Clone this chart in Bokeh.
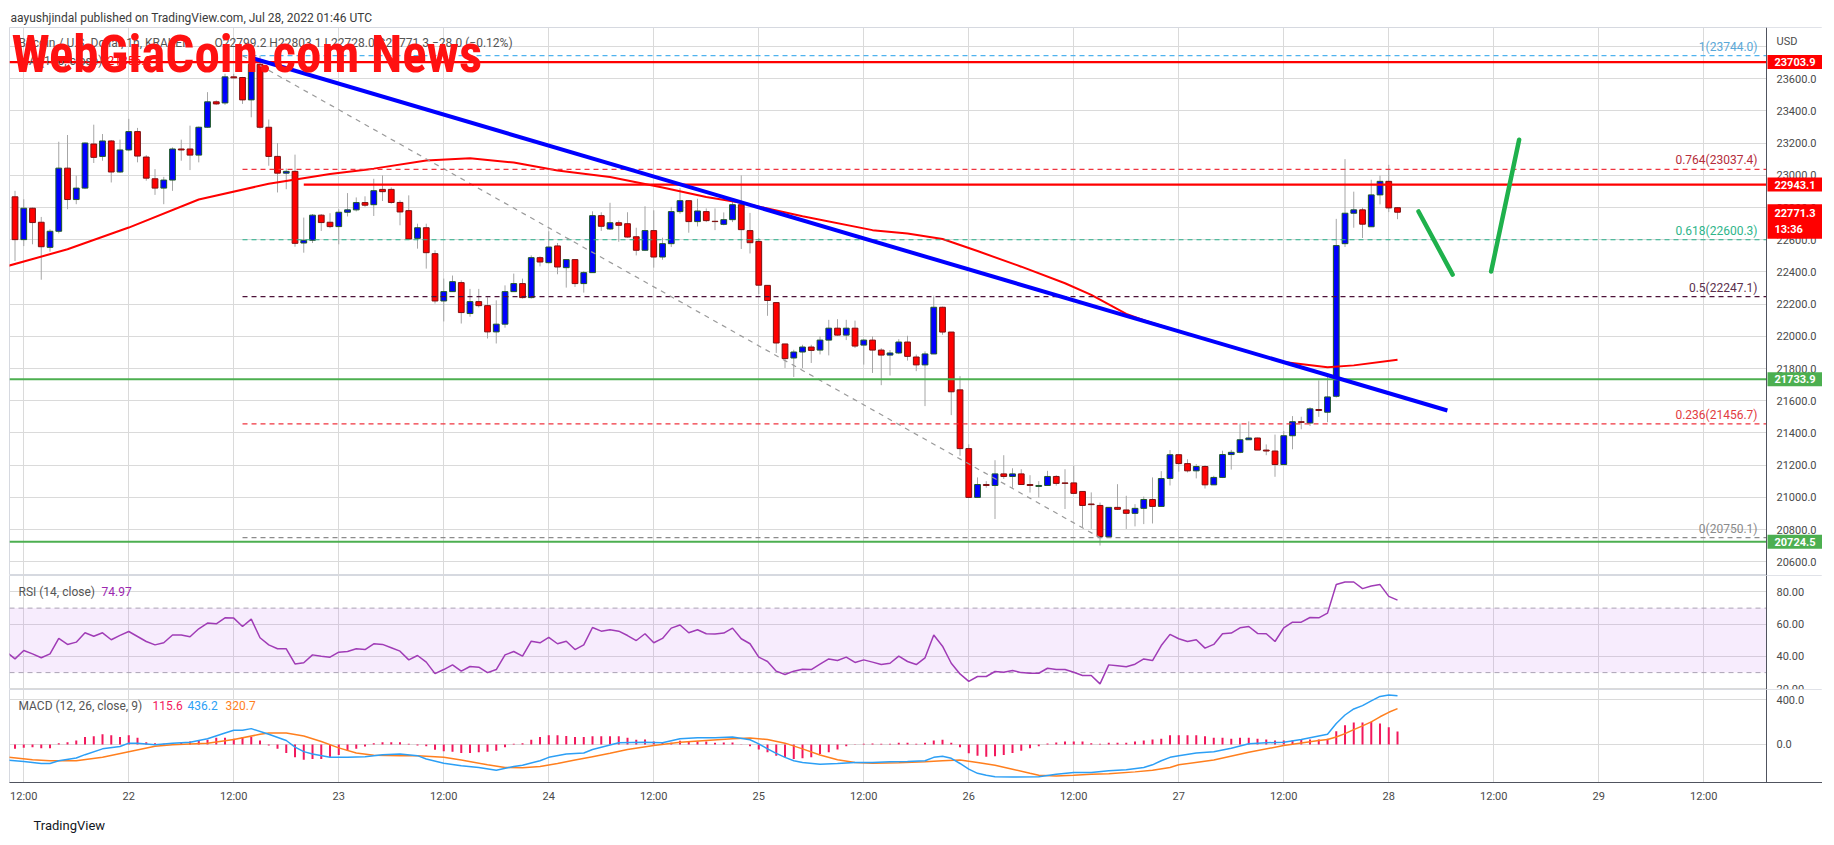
from bokeh.plotting import figure
from bokeh.layouts import column
from bokeh.models import (ColumnDataSource, Range1d, FixedTicker, Span, Label,
                          BoxAnnotation, Title)
from bokeh.core.properties import value
from bokeh.embed import file_html
from bokeh.resources import INLINE

# ------------------------------------------------------------------ data
# x = hours counted from Jul 22 00:00 (1h candles, BTC/USD Kraken)
candle_hours = list(range(-13, 146))
opens = [22867, 22601, 22796, 22709, 22553, 22653, 23045, 22850, 22921, 23195,
         23118, 23214, 23021, 23158, 23272, 23114, 22979, 22921, 22971, 23164,
         23164, 23126, 23299, 23457, 23450, 23612, 23608, 23469, 23690, 23299,
         23118, 23014, 23025, 22580, 22597, 22753, 22709, 22682, 22771, 22786,
         22831, 22818, 22913, 22913, 22832, 22781, 22609, 22675, 22514, 22220,
         22278, 22334, 22142, 22216, 22191, 22028, 22076, 22278, 22328, 22241,
         22489, 22458, 22562, 22427, 22477, 22328, 22396, 22750, 22667, 22706,
         22700, 22619, 22535, 22657, 22493, 22576, 22775, 22843, 22713, 22775,
         22715, 22696, 22725, 22818, 22657, 22590, 22317, 22210, 21953, 21866,
         21903, 21934, 21915, 21977, 22051, 22008, 22051, 21946, 21977, 21915,
         21884, 21897, 21965, 21872, 21823, 21891, 22181, 22027, 21668, 21303,
         21000, 21080, 21074, 21146, 21130, 21146, 21080, 21068, 21074, 21130,
         21090, 21090, 21037, 20959, 20950, 20755, 20938, 20922, 20901, 20932,
         20987, 20944, 21118, 21265, 21210, 21165, 21192, 21078, 21124, 21266,
         21280, 21358, 21369, 21294, 21288, 21204, 21383, 21470, 21462, 21546,
         21529, 21628, 22576, 22765, 22786, 22681, 22879, 22963, 22799.2]
highs = [22904, 22852, 22800, 22742, 22665, 23209, 23251, 22998, 23205, 23315,
         23257, 23220, 23222, 23351, 23295, 23126, 23039, 22991, 23174, 23222,
         23309, 23304, 23517, 23466, 23631, 23631, 23612, 23720, 23744, 23347,
         23201, 23043, 23129, 22738, 22760, 22760, 22765, 22790, 22890, 22863,
         22870, 22979, 23000, 22925, 22845, 22876, 22700, 22700, 22535, 22359,
         22378, 22348, 22295, 22295, 22243, 22224, 22317, 22390, 22359, 22503,
         22497, 22653, 22580, 22477, 22477, 22406, 22777, 22771, 22830, 22720,
         22771, 22675, 22808, 22783, 22613, 22804, 22921, 22845, 22855, 22795,
         22795, 22770, 22845, 23000, 22767, 22611, 22317, 22210, 21953, 21917,
         21948, 21948, 22000, 22103, 22107, 22103, 22098, 21983, 22000, 21927,
         21915, 21983, 22004, 21887, 21907, 22252, 22185, 22027, 21753, 21330,
         21124, 21101, 21231, 21262, 21181, 21175, 21138, 21101, 21165, 21138,
         21175, 21196, 21037, 21031, 20968, 20938, 21082, 21010, 20958, 21005,
         21124, 21163, 21294, 21265, 21237, 21207, 21200, 21134, 21290, 21295,
         21459, 21472, 21371, 21329, 21390, 21412, 21505, 21501, 21560, 21727,
         21756, 22730, 23101, 22899, 22800, 22973, 22998, 23066, 22803.1]
lows = [22468, 22561, 22572, 22352, 22526, 22640, 22790, 22821, 22915, 23077,
        23091, 22956, 23015, 23150, 23081, 22967, 22879, 22821, 22904, 23091,
        23033, 23081, 23295, 23438, 23438, 23600, 23444, 23361, 23290, 23060,
        22894, 22914, 22557, 22520, 22580, 22655, 22672, 22572, 22745, 22776,
        22805, 22748, 22841, 22824, 22690, 22605, 22545, 22421, 22204, 22093,
        22276, 22080, 22122, 22180, 21987, 21956, 22054, 22278, 22235, 22235,
        22435, 22452, 22386, 22303, 22307, 22272, 22396, 22655, 22661, 22588,
        22613, 22503, 22530, 22427, 22476, 22555, 22762, 22644, 22683, 22710,
        22660, 22690, 22710, 22543, 22515, 22262, 22128, 21897, 21804, 21748,
        21803, 21835, 21888, 21882, 22004, 21977, 21928, 21825, 21773, 21697,
        21757, 21890, 21850, 21784, 21567, 21891, 22010, 21511, 21258, 21000,
        20998, 21060, 20866, 21115, 21060, 21080, 21030, 21000, 21074, 21073,
        20928, 21021, 20814, 20804, 20701, 20755, 20922, 20804, 20820, 20834,
        20838, 20944, 21074, 21160, 21155, 21118, 21055, 21078, 21120, 21173,
        21274, 21358, 21294, 21262, 21128, 21200, 21299, 21423, 21443, 21500,
        21467, 21620, 22555, 22675, 22611, 22681, 22820, 22772, 22728.0]
closes = [22601, 22796, 22707, 22557, 22653, 23045, 22850, 22921, 23201, 23112,
          23214, 23021, 23158, 23272, 23120, 22983, 22921, 22971, 23164, 23158,
          23126, 23299, 23457, 23444, 23612, 23606, 23469, 23690, 23299, 23118,
          23014, 23025, 22578, 22597, 22753, 22707, 22682, 22771, 22786, 22831,
          22815, 22905, 22899, 22832, 22773, 22605, 22675, 22520, 22220, 22278,
          22340, 22148, 22216, 22191, 22028, 22076, 22278, 22328, 22241, 22489,
          22462, 22555, 22431, 22477, 22328, 22396, 22750, 22684, 22706, 22690,
          22617, 22535, 22657, 22493, 22576, 22775, 22843, 22713, 22779, 22719,
          22713, 22725, 22818, 22663, 22582, 22318, 22223, 21959, 21862, 21903,
          21934, 21913, 21977, 22051, 22008, 22051, 21940, 21977, 21915, 21884,
          21897, 21965, 21876, 21823, 21891, 22181, 22027, 21656, 21303, 21000,
          21080, 21074, 21146, 21130, 21146, 21080, 21074, 21074, 21130, 21087,
          21087, 21025, 20950, 20955, 20757, 20938, 20926, 20901, 20932, 20987,
          20944, 21117, 21265, 21210, 21165, 21192, 21078, 21124, 21266, 21280,
          21358, 21369, 21294, 21288, 21204, 21383, 21470, 21466, 21550, 21540,
          21624, 22564, 22765, 22786, 22697, 22879, 22963, 22798, 22771.3]

ma_hours = [-14, -7, 0, 8, 16, 23, 28, 34, 39, 44, 49, 55, 61, 66, 70, 77, 85, 89,
            93, 97, 102, 107, 110, 114, 116, 119, 126, 132, 137, 140, 145]
ma_values = [22435, 22541, 22676, 22850, 22948, 23008, 23042, 23093, 23107, 23080,
             23031, 22990, 22925, 22866, 22830, 22746, 22660, 22639, 22605, 22530,
             22433, 22330, 22258, 22140, 22100, 22050, 21934, 21841, 21808, 21820, 21855]
ma_last = "21855.2"

trend_hours = [14, 150.7]
trend_prices = [23730, 21540]

fib_diag_hours = [13, 111]
fib_diag_prices = [23744.0, 20750.1]
fib_start_hour = 13
fib_ratios = ["1", "0.764", "0.618", "0.5", "0.236", "0"]
fib_prices = [23744.0, 23037.4, 22600.3, 22247.1, 21456.7, 20750.1]

full_levels = [23703.9, 21733.9, 20724.5]
full_level_colors = ["#ff0000", "#4caf50", "#4caf50"]
partial_level_start = 20
partial_level = 22943.1

arrow1_hours = [147.4, 151.3]
arrow1_prices = [22776, 22384]
arrow2_hours = [155.7, 158.9]
arrow2_prices = [22403, 23221]

last_price = 22771.3
countdown = "13:36"

rsi_hours = list(range(-14, 146))
rsi_values = [43.0, 38.5, 43.7, 41.6, 39.2, 41.6, 51.2, 47.5, 48.9, 54.7,
              52.6, 54.7, 50.4, 53.1, 55.5, 52.4, 49.3, 47.2, 48.5, 53.3,
              53.3, 52.2, 57.2, 60.7, 60.3, 64.0, 63.8, 58.6, 63.2, 51.6,
              47.2, 44.8, 44.8, 35.4, 36.1, 41.0, 40.2, 39.6, 42.7, 43.1,
              44.8, 44.3, 47.9, 47.5, 45.4, 43.3, 37.9, 40.6, 36.5, 29.4,
              31.9, 34.8, 30.9, 33.8, 33.4, 30.0, 31.9, 41.0, 43.1, 40.2,
              49.5, 48.5, 51.8, 47.9, 49.5, 44.3, 47.2, 58.0, 55.7, 56.6,
              55.7, 53.0, 49.9, 54.1, 48.5, 51.2, 57.6, 59.5, 54.7, 56.6,
              54.1, 53.9, 54.5, 57.6, 51.0, 47.9, 39.6, 36.9, 30.9, 28.8,
              30.9, 32.1, 31.9, 35.2, 38.5, 37.5, 39.6, 36.3, 37.9, 36.5,
              35.0, 35.8, 40.2, 36.9, 35.0, 39.2, 53.3, 46.4, 35.8, 29.2,
              24.6, 27.6, 27.6, 30.7, 30.2, 31.3, 30.0, 29.6, 29.6, 32.7,
              31.9, 31.9, 30.2, 28.2, 28.2, 23.0, 34.8, 34.2, 33.6, 35.2,
              38.5, 37.5, 46.8, 53.7, 51.0, 49.3, 50.4, 45.2, 47.5, 54.1,
              54.5, 57.8, 58.6, 54.3, 54.1, 49.3, 57.8, 61.3, 61.3, 64.2,
              64.0, 66.9, 84.6, 86.2, 86.2, 82.1, 83.7, 84.6, 77.3, 74.97]

macd_hours = [-14, -12, -10, -9, -8, -6, -5, -3, -1, 0, 1, 3, 5, 7, 9, 11, 12, 13, 14,
              16, 18, 19, 20, 21, 23, 25, 27, 29, 31, 33, 34, 36, 38, 40, 42, 44, 45,
              47, 48, 50, 52, 53, 56, 59, 61, 63, 65, 67, 69, 71, 72, 73, 74, 75, 76,
              77, 79, 81, 83, 85, 87, 89, 91, 92, 93, 94, 95, 96, 97, 98, 99, 101,
              104, 106, 108, 110, 112, 114, 116, 117, 118, 119, 120, 122, 124, 126,
              128, 130, 132, 134, 136, 137, 138, 139, 140, 141, 142, 143, 144, 145]
macd_values = [-140, -152, -170, -170, -145, -121, -91, -39, -18, 12, 12, -3, 12, 21,
               52, 103, 127, 127, 142, 91, 36, -24, -64, -85, -115, -115, -109, -91,
               -85, -100, -130, -167, -191, -206, -230, -197, -185, -145, -115, -85,
               -76, -45, 15, 21, 15, 52, 61, 61, 67, 42, 6, -39, -79, -115, -145,
               -161, -176, -170, -161, -161, -155, -152, -145, -115, -106, -124,
               -170, -221, -258, -276, -288, -291, -288, -267, -251, -251, -236,
               -227, -206, -182, -145, -115, -100, -76, -64, -33, 6, 15, 21, 45, 76,
               91, 188, 264, 318, 348, 391, 430, 442, 436.2]
signal_hours = [-14, -11, -9, -6, -3, 0, 3, 5, 9, 12, 15, 16, 18, 20, 22, 24, 26, 28,
                31, 33, 36, 38, 41, 43, 45, 47, 49, 51, 53, 55, 57, 60, 63, 66, 69,
                71, 73, 75, 77, 79, 81, 83, 85, 88, 91, 93, 95, 97, 99, 101, 103,
                104, 106, 108, 110, 112, 115, 117, 119, 120, 124, 128, 132, 136,
                137, 138, 139, 140, 141, 142, 143, 144, 145]
signal_values = [-112, -136, -145, -145, -115, -64, -15, -3, 12, 45, 91, 103, 103, 76,
                 27, -30, -76, -97, -100, -100, -115, -139, -182, -206, -209, -197,
                 -170, -139, -109, -79, -45, -9, 21, 36, 52, 58, 45, 12, -39, -94,
                 -136, -161, -167, -164, -155, -145, -139, -161, -185, -221, -258,
                 -276, -282, -276, -267, -261, -245, -230, -206, -182, -139, -70, -9,
                 36, 45, 67, 97, 133, 167, 203, 248, 288, 320.7]
hist_hours = list(range(-13, 146))
hist_values = [-39, -30, -24, -33, -33, 12, 21, 36, 67, 73,
               91, 82, 67, 82, 61, 21, 12, 6, 12, 21,
               27, 36, 42, 61, 61, 52, 67, 67, 36, -9,
               -39, -76, -115, -136, -130, -130, -115, -94, -55, -39,
               -18, 12, 21, 21, 21, 6, -9, -15, -48, -61,
               -64, -76, -76, -70, -64, -55, -24, 6, 12, 42,
               67, 82, 82, 76, 67, 67, 73, 73, 73, 73,
               61, 42, 45, 27, 15, 15, 33, 27, 27, 27,
               15, 18, 18, 3, -15, -45, -70, -100, -115, -130,
               -124, -115, -85, -70, -45, -15, -3, 6, 9, 6,
               6, 15, 15, 6, 15, 36, 42, 15, -24, -79,
               -100, -109, -106, -94, -76, -55, -33, -15, 9, 18,
               27, 27, 27, 12, 6, 15, 15, 15, 27, 36,
               45, 52, 82, 82, 82, 82, 73, 61, 61, 52,
               61, 61, 52, 45, 36, 36, 36, 45, 45, 45,
               52, 118, 173, 197, 197, 203, 188, 155, 115.6]
macd_legend = ["115.6", "436.2", "320.7"]

x_ticks = list(range(-12, 181, 12))
x_tick_labels = ["12:00", "22", "12:00", "23", "12:00", "24", "12:00", "25", "12:00",
                 "26", "12:00", "27", "12:00", "28", "12:00", "29", "12:00"]
price_ticks = list(range(20600, 23601, 200))
price_grid = list(range(20600, 23801, 200))
rsi_ticks = [20, 40, 60, 80]
macd_ticks = [0, 400]

# ------------------------------------------------------------------ style
FONT = "Roboto"
GRID = "#dadada"
TXT = "#4a4a4a"
AXLINE = "#50535e"
UP_FILL, UP_LINE = "#0000ff", "#1f5a26"
DN_FILL, DN_LINE = "#ff0000", "#7d1010"
PX_PER_H = 8.75
X0, XA = -13.63, 187.17           # price area: left edge .. price-scale line
FW = 1813                         # frame incl. price-scale strip
XR = X0 + FW / PX_PER_H
xr = Range1d(X0, XR)


def make_fig(y0, y1, fh, top, bottom, xaxis, grid_ticks, tick_vals, tick_fmt):
    f = figure(x_range=xr, y_range=Range1d(y0, y1), frame_width=FW, frame_height=fh,
               min_border_left=9, min_border_right=0, min_border_top=top,
               min_border_bottom=bottom, x_axis_location=("below" if xaxis else None),
               y_axis_location=None, output_backend="svg", toolbar_location=None)
    f.background_fill_color = "white"
    f.border_fill_color = "white"
    f.outline_line_color = "#d6d9e0"
    f.xgrid.ticker = FixedTicker(ticks=x_ticks)
    f.ygrid.ticker = FixedTicker(ticks=grid_ticks)
    f.grid.grid_line_color = GRID
    # price-scale strip: blank out the grid there, draw the scale line
    f.add_layout(BoxAnnotation(left=XA, fill_color="white", fill_alpha=1,
                               line_color=None, level="underlay"))
    f.add_layout(Span(location=XA, dimension="height", line_color=AXLINE, line_width=1))
    f.text(x=[XA] * len(tick_vals), y=tick_vals, text=[tick_fmt.format(v) for v in tick_vals],
           x_offset=10, text_align="left", text_baseline="middle",
           text_font=value(FONT), text_font_size="11px", text_color=TXT)
    return f


# ------------------------------------------------------------------ main pane
p = make_fig(20514.9, 23918.6, 548, 27, 0, False, price_grid, price_ticks, "{:.1f}")
p.add_layout(Label(x=XA, y=23800, x_offset=10, y_offset=5, text="USD",
                   text_baseline="middle", text_color=TXT, text_font=FONT,
                   text_font_size="11px"))
p.title.text = "aayushjindal published on TradingView.com, Jul 28, 2022 01:46 UTC"
p.title.align = "left"
p.title.offset = 1
p.title.standoff = 6
p.title.text_font = FONT
p.title.text_font_size = "12px"
p.title.text_font_style = "normal"
p.title.text_color = "#3a3a3a"

inc = [c >= o for o, c in zip(opens, closes)]
src = ColumnDataSource(dict(
    x=candle_hours, h=highs, l=lows,
    top=[max(o, c) for o, c in zip(opens, closes)],
    bottom=[min(o, c) for o, c in zip(opens, closes)],
    fill=[UP_FILL if u else DN_FILL for u in inc],
    line=[UP_LINE if u else DN_LINE for u in inc]))
p.segment(x0="x", y0="h", x1="x", y1="l", source=src, line_color="#a6a6a6", line_width=1)
p.vbar(x="x", width=0.66, top="top", bottom="bottom", fill_color="fill",
       line_color="line", line_width=1, source=src)

p.line(ma_hours, ma_values, line_color="#ff0000", line_width=2)

fib_line_colors = ["#4fb3ee", "#f0343f", "#26b089", "#4d1238", "#f0343f", "#8c8c8c"]
fib_text_colors = ["#5aa8d8", "#b52d3b", "#2fb58a", "#5b2f4c", "#e23b40", "#8a8a8a"]
p.segment(x0=[fib_start_hour] * len(fib_prices), y0=fib_prices,
          x1=[XA] * len(fib_prices), y1=fib_prices,
          line_color=fib_line_colors, line_width=1.2, line_dash="5 4")
p.line(fib_diag_hours, fib_diag_prices, line_color="#9a9a9a", line_width=1.2, line_dash="5 5")
for rr, pr, c in zip(fib_ratios, fib_prices, fib_text_colors):
    p.add_layout(Label(x=XA, y=pr, x_offset=-9, y_offset=2, text=f"{rr}({pr:.1f})",
                       text_align="right", text_baseline="bottom", text_color=c,
                       text_font=FONT, text_font_size="12px"))

p.segment(x0=[X0] * len(full_levels), y0=full_levels, x1=[XA] * len(full_levels),
          y1=full_levels, line_color=full_level_colors, line_width=2.2)
p.segment(x0=[partial_level_start], y0=[partial_level], x1=[XA], y1=[partial_level],
          line_color="#ff0000", line_width=2.2)

p.line(trend_hours, trend_prices, line_color="#0000ff", line_width=4)

p.line(arrow1_hours, arrow1_prices, line_color="#1fb14c", line_width=4.5, line_cap="round")
p.line(arrow2_hours, arrow2_prices, line_color="#1fb14c", line_width=4.5, line_cap="round")

# price-scale boxes
box_levels = [23703.9, partial_level, 21733.9, 20724.5]
box_colors = ["#ff0000", "#ff0000", "#4caf50", "#4caf50"]
for lv, c in zip(box_levels, box_colors):
    p.add_layout(Label(x=XA, y=lv, x_offset=1, text=f"{lv:.1f}", text_align="left",
                       text_baseline="middle", text_color="white", text_font=FONT,
                       text_font_size="11px", text_font_style="bold",
                       background_fill_color=c,
                       padding=dict(left=7, right=7, top=3, bottom=3)))
p.add_layout(Label(x=XA, y=last_price, x_offset=1, y_offset=8,
                   text=f"{last_price:.1f}\n{countdown}", text_align="left",
                   text_baseline="top", text_color="white", text_font=FONT,
                   text_font_size="11px", text_font_style="bold",
                   background_fill_color="#ff0000",
                   padding=dict(left=7, right=7, top=3, bottom=3)))

# legend lines and watermark
p.add_layout(Label(x=X0, y=23825, x_offset=9, text="Bitcoin / U.S. Dollar, 1h, KRAKEN",
                   text_baseline="middle", text_color="#555555", text_font=FONT,
                   text_font_size="12px"))
p.add_layout(Label(x=X0, y=23825, x_offset=205,
                   text="O22799.2  H22803.1  L22728.0  C22771.3  \u221228.0 (\u22120.12%)",
                   text_baseline="middle", text_color="#555555", text_font=FONT,
                   text_font_size="12px"))
p.add_layout(Label(x=X0, y=23712, x_offset=9, text="MA (100, close)",
                   text_baseline="middle", text_color="#555555", text_font=FONT,
                   text_font_size="12px"))
p.add_layout(Label(x=X0, y=23712, x_offset=98, text=ma_last,
                   text_baseline="middle", text_color="#ff0000", text_font=FONT,
                   text_font_size="12px"))
p.add_layout(Label(x=X0, y=23754, x_offset=2, text="WebGiaCoin.com News",
                   text_baseline="middle", text_color="#ff1111",
                   text_font="'Roboto Condensed', 'Liberation Sans Narrow', Roboto",
                   text_font_style="bold", text_font_size="51px", level="overlay"))

# ------------------------------------------------------------------ RSI pane
r = make_fig(19.53, 90.23, 114, 0, 0, False, rsi_ticks, rsi_ticks, "{:.2f}")
r.add_layout(BoxAnnotation(bottom=30, top=70, right=XA, fill_color="#b44ef0",
                           fill_alpha=0.11, line_color=None, level="underlay"))
r.segment(x0=[X0, X0], y0=[70, 30], x1=[XA, XA], y1=[70, 30], line_color="#aaa2b4",
          line_width=1, line_dash="5 4")
r.line(rsi_hours, rsi_values, line_color="#a03cb6", line_width=1.5)
r.add_layout(Label(x=X0, y=80, x_offset=9, text="RSI (14, close)", text_baseline="middle",
                   text_color="#555555", text_font=FONT, text_font_size="12px"))
r.add_layout(Label(x=X0, y=80, x_offset=92, text=f"{rsi_values[-1]:.2f}",
                   text_baseline="middle", text_color="#9c27b0", text_font=FONT,
                   text_font_size="12px"))

# ------------------------------------------------------------------ MACD pane
m = make_fig(-340.1, 492.2, 93, 0, 58, True, macd_ticks, macd_ticks, "{:.1f}")
m.xaxis.ticker = FixedTicker(ticks=x_ticks)
m.xaxis.major_label_overrides = dict(zip(x_ticks, x_tick_labels))
m.xaxis.axis_line_color = AXLINE
m.xaxis.major_tick_line_color = None
m.xaxis.major_tick_out = 0
m.xaxis.major_tick_in = 0
m.xaxis.minor_tick_line_color = None
m.xaxis.minor_tick_out = 0
m.xaxis.major_label_text_font = FONT
m.xaxis.major_label_text_font_size = "11px"
m.xaxis.major_label_text_color = TXT
m.xaxis.major_label_standoff = 7

m.segment(x0=hist_hours, y0=[0] * len(hist_values), x1=hist_hours, y1=hist_values,
          line_color="#f2185c", line_width=2)
m.line(signal_hours, signal_values, line_color="#ff7f1e", line_width=1.5)
m.line(macd_hours, macd_values, line_color="#2c9ff5", line_width=1.5)

m.add_layout(Label(x=X0, y=400, x_offset=9, y_offset=-6, text="MACD (12, 26, close, 9)",
                   text_baseline="middle", text_color="#555555", text_font=FONT,
                   text_font_size="12px"))
for txt, off, c in zip(macd_legend, [143, 178, 216], ["#f2185c", "#2c9ff5", "#ff7f1e"]):
    m.add_layout(Label(x=X0, y=400, x_offset=off, y_offset=-6, text=txt,
                       text_baseline="middle", text_color=c, text_font=FONT,
                       text_font_size="12px"))
m.add_layout(Title(text="TradingView", align="left", offset=24, standoff=20,
                   text_font=FONT, text_font_size="13px", text_font_style="normal",
                   text_color="#131722"), "below")

layout = column(p, r, m)
open("out.html", "w").write(file_html(layout, INLINE))
